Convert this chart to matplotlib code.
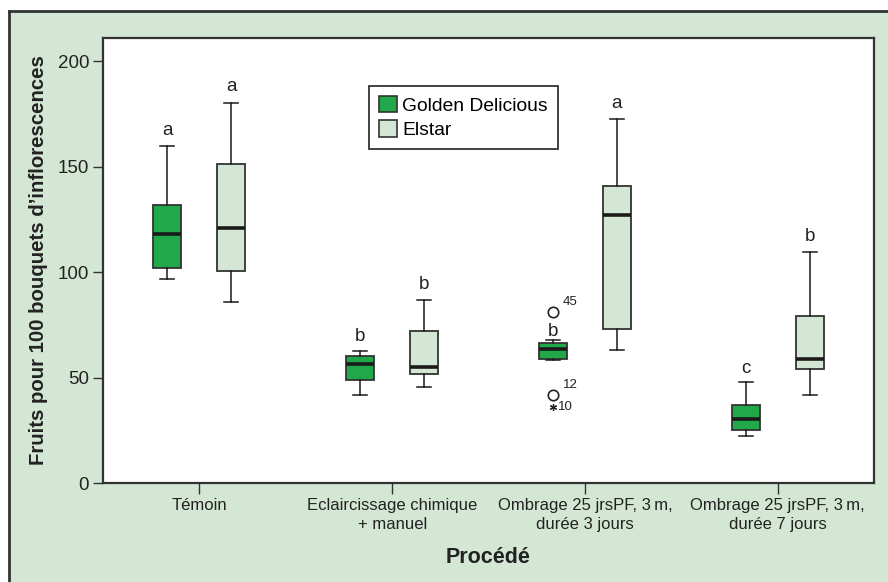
import matplotlib.pyplot as plt
from matplotlib.patches import Rectangle, Patch
from matplotlib.lines import Line2D

categories = ['Témoin', 'Eclaircissage chimique\n+ manuel',
              'Ombrage 25 jrsPF, 3\u2009m,\ndurée 3 jours',
              'Ombrage 25 jrsPF, 3\u2009m,\ndurée 7 jours']

# Golden Delicious
gd_whislo = [96.7, 41.8, 58.4, 22.4]
gd_q1 = [102.0, 48.9, 58.8, 25.1]
gd_med = [118.0, 56.4, 63.4, 30.3]
gd_q3 = [131.7, 60.3, 66.2, 37.0]
gd_whishi = [159.7, 62.7, 67.6, 47.7]
gd_letters = ['a', 'b', 'b', 'c']
gd_letters_y = [167.3, 69.7, 72.0, 54.5]

# Elstar
el_whislo = [86.0, 45.6, 63.0, 41.7]
el_q1 = [100.6, 51.8, 73.0, 54.0]
el_med = [121.0, 55.1, 127.2, 58.8]
el_q3 = [151.3, 72.0, 140.8, 79.0]
el_whishi = [180.2, 86.6, 172.4, 109.3]
el_letters = ['a', 'b', 'a', 'b']
el_letters_y = [187.8, 94.0, 180.0, 117.0]

# outliers (Golden Delicious, Ombrage 3 jours)
out_group = 2
out_vals = [81.0, 41.7, 36.2]
out_kind = ['o', 'o', '*']
out_ids = ['45', '12', '10']

GREEN = '#21a949'
PALE = '#d3e7d4'
EDGE = '#333333'

plt.rcParams['font.family'] = ['Liberation Sans', 'DejaVu Sans']

fig = plt.figure(figsize=(8.88, 5.82), dpi=100)
fig.patches.append(Rectangle((9 / 888, 0), 1, 1 - 11 / 582, transform=fig.transFigure,
                             facecolor=PALE, edgecolor='none', zorder=-2))
fig.lines.append(Line2D([9 / 888, 9 / 888], [0, 1 - 11 / 582], transform=fig.transFigure,
                        color=EDGE, lw=2))
fig.lines.append(Line2D([9 / 888, 1], [1 - 11 / 582, 1 - 11 / 582], transform=fig.transFigure,
                        color=EDGE, lw=2))

ax = fig.add_axes([103 / 888, 1 - 483 / 582, 771 / 888, 445 / 582])
ax.set_facecolor('white')

off = 0.166
w = 0.145


def stats(lo, q1, med, q3, hi):
    return [dict(whislo=a, q1=b, med=c, q3=d, whishi=e, fliers=[])
            for a, b, c, d, e in zip(lo, q1, med, q3, hi)]


for st, sh, col in [(stats(gd_whislo, gd_q1, gd_med, gd_q3, gd_whishi), -off, GREEN),
                    (stats(el_whislo, el_q1, el_med, el_q3, el_whishi), off, PALE)]:
    pos = [i + sh for i in range(len(categories))]
    ax.bxp(st, positions=pos, widths=w, capwidths=w / 2, patch_artist=True,
           showfliers=False, manage_ticks=False,
           boxprops=dict(facecolor=col, edgecolor=EDGE, linewidth=1.3),
           medianprops=dict(color='#1a1a1a', linewidth=2.6),
           whiskerprops=dict(color='#1a1a1a', linewidth=1.1),
           capprops=dict(color='#1a1a1a', linewidth=1.1))

for i in range(len(categories)):
    ax.text(i - off, gd_letters_y[i], gd_letters[i], ha='center', va='center', fontsize=13.5, color='#222222')
    ax.text(i + off, el_letters_y[i], el_letters[i], ha='center', va='center', fontsize=13.5, color='#222222')

ox = out_group - off
for v, k, lab in zip(out_vals, out_kind, out_ids):
    if k == 'o':
        ax.plot(ox, v, marker='o', ms=7.5, mfc='none', mec='#222222', mew=1.2)
        ax.annotate(lab, (ox, v), xytext=(7, 3), textcoords='offset points',
                    fontsize=9.5, color='#222222', va='bottom', ha='left')
    else:
        ax.plot(ox, v, marker=(6, 2, 0), ms=5, mec='#222222', mew=0.9)
        ax.annotate(lab, (ox, v), xytext=(3.5, 0), textcoords='offset points',
                    fontsize=9.5, color='#222222', va='center', ha='left')

ax.set_xlim(-0.5, 3.5)
ax.set_ylim(0, 211)
ax.set_yticks([0, 50, 100, 150, 200])
ax.set_xticks(range(len(categories)))
ax.set_xticklabels(categories, fontsize=12, linespacing=1.3, color='#222222')
ax.tick_params(axis='y', labelsize=13.5, length=7, width=1, color=EDGE, labelcolor='#222222', pad=3)
ax.tick_params(axis='x', length=8, width=1, color=EDGE, pad=3)
for s in ax.spines.values():
    s.set_color(EDGE)
    s.set_linewidth(1.6)

ax.set_ylabel("Fruits pour 100 bouquets d\u2019inflorescences", fontsize=14.7, fontweight='bold',
              color='#222222', labelpad=7)
ax.set_xlabel('Procédé', fontsize=15.5, fontweight='bold', color='#222222', labelpad=11)

handles = [Patch(facecolor=GREEN, edgecolor=EDGE, linewidth=1.2, label='Golden Delicious'),
           Patch(facecolor=PALE, edgecolor=EDGE, linewidth=1.2, label='Elstar')]
leg = ax.legend(handles=handles, loc='upper left', bbox_to_anchor=(0.345, 0.892), borderaxespad=0,
                fontsize=13.9, handlelength=0.93, handleheight=0.93, handletextpad=0.3,
                labelspacing=0.3, borderpad=0.5, fancybox=False, framealpha=1)
leg.get_frame().set_edgecolor(EDGE)
leg.get_frame().set_linewidth(1.3)

fig.savefig('out.png', dpi=100)
